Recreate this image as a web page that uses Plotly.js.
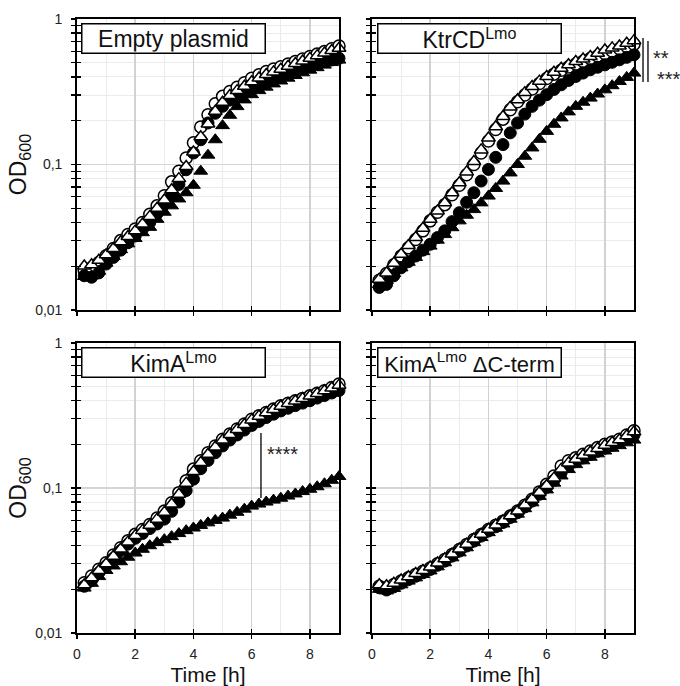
<!DOCTYPE html>
<html><head><meta charset="utf-8">
<script src="https://cdn.plot.ly/plotly-3.0.1.min.js"></script>
<style>html,body{margin:0;padding:0;background:#fff}#chart{width:680px;height:686px}</style>
</head><body><div id="chart"></div>
<script>
// ---- data ----
const time = [0.25,0.5,0.75,1,1.25,1.5,1.75,2,2.25,2.5,2.75,3,3.25,3.5,3.75,4,4.25,4.5,4.75,5,5.25,5.5,5.75,6,6.25,6.5,6.75,7,7.25,7.5,7.75,8,8.25,8.5,8.75,9];

const panelTitles = ["Empty plasmid", "KtrCD<sup>Lmo</sup>", "KimA<sup>Lmo</sup>", "KimA<sup>Lmo</sup> ΔC-term"];

// Panel 1: Empty plasmid
const emptyOpenCircle = [0.0186,0.0195,0.0212,0.0236,0.0265,0.030,0.033,0.036,0.040,0.0455,0.052,0.061,0.076,0.090,0.111,0.141,0.181,0.220,0.262,0.294,0.318,0.340,0.365,0.392,0.414,0.436,0.453,0.470,0.490,0.510,0.531,0.552,0.574,0.597,0.625,0.653];
const emptyFilledCircle = [0.0172,0.0168,0.0180,0.0207,0.0230,0.0258,0.029,0.0323,0.036,0.040,0.046,0.0532,0.062,0.073,0.092,0.120,0.148,0.193,0.225,0.251,0.277,0.300,0.327,0.353,0.368,0.383,0.398,0.413,0.430,0.448,0.466,0.484,0.497,0.510,0.523,0.537];
const emptyOpenTriangle = [0.0201,0.0205,0.022,0.0240,0.0265,0.0295,0.032,0.035,0.039,0.044,0.050,0.057,0.067,0.080,0.097,0.122,0.155,0.190,0.232,0.268,0.298,0.322,0.345,0.370,0.393,0.415,0.433,0.452,0.473,0.494,0.515,0.538,0.560,0.583,0.607,0.630];
const emptyFilledTriangle = [0.0170,0.0172,0.0185,0.0210,0.0233,0.026,0.0285,0.031,0.034,0.037,0.042,0.047,0.052,0.058,0.064,0.072,0.090,0.116,0.148,0.185,0.218,0.250,0.278,0.302,0.322,0.340,0.358,0.375,0.392,0.409,0.427,0.445,0.463,0.482,0.502,0.522];

// Panel 2: KtrCD Lmo
const ktrOpenCircle = [0.0160,0.0178,0.0205,0.0235,0.0268,0.0305,0.035,0.041,0.047,0.053,0.062,0.072,0.085,0.100,0.120,0.145,0.174,0.205,0.238,0.270,0.300,0.330,0.360,0.390,0.418,0.445,0.468,0.490,0.512,0.535,0.557,0.580,0.602,0.625,0.647,0.670];
const ktrFilledCircle = [0.0143,0.0150,0.0172,0.0195,0.0215,0.0235,0.0258,0.0283,0.0315,0.0350,0.0405,0.0467,0.055,0.064,0.077,0.0925,0.112,0.137,0.165,0.193,0.222,0.251,0.277,0.302,0.328,0.353,0.378,0.403,0.425,0.448,0.466,0.484,0.504,0.524,0.545,0.567];
const ktrOpenTriangle = [0.0163,0.0180,0.0210,0.0242,0.0278,0.0315,0.0365,0.042,0.048,0.0546,0.064,0.075,0.089,0.105,0.126,0.152,0.182,0.214,0.248,0.279,0.312,0.344,0.374,0.403,0.431,0.459,0.485,0.510,0.531,0.552,0.582,0.613,0.633,0.653,0.681,0.710];
const ktrFilledTriangle = [0.0150,0.0160,0.0178,0.0195,0.0213,0.0230,0.0252,0.0275,0.0302,0.0330,0.0368,0.0410,0.0448,0.0490,0.0545,0.0607,0.0685,0.0769,0.0875,0.100,0.114,0.130,0.149,0.169,0.189,0.209,0.230,0.251,0.268,0.286,0.305,0.326,0.348,0.372,0.397,0.425];

// Panel 3: KimA Lmo
const kimOpenCircle = [0.0222,0.0247,0.0275,0.0305,0.0345,0.0387,0.0432,0.0479,0.0518,0.0561,0.0620,0.0693,0.0791,0.0929,0.112,0.135,0.154,0.175,0.195,0.217,0.236,0.255,0.276,0.298,0.315,0.332,0.350,0.369,0.384,0.399,0.415,0.432,0.450,0.469,0.494,0.521];
const kimFilledCircle = [0.0210,0.0230,0.0260,0.0290,0.0328,0.0370,0.0410,0.0450,0.0485,0.0525,0.0565,0.0610,0.0690,0.0800,0.0960,0.115,0.136,0.155,0.175,0.195,0.214,0.232,0.251,0.270,0.288,0.306,0.323,0.340,0.355,0.370,0.385,0.400,0.417,0.434,0.452,0.470];
const kimOpenTriangle = [0.0215,0.0240,0.0270,0.0300,0.0338,0.0380,0.0425,0.0470,0.0510,0.0553,0.0610,0.0680,0.0775,0.0905,0.108,0.130,0.150,0.171,0.192,0.214,0.234,0.253,0.274,0.295,0.313,0.330,0.348,0.366,0.382,0.398,0.414,0.431,0.449,0.468,0.490,0.512];
const kimFilledTriangle = [0.0204,0.0220,0.0245,0.0270,0.0290,0.0310,0.0333,0.0356,0.0378,0.0400,0.0420,0.0440,0.0462,0.0485,0.0508,0.0530,0.0552,0.0575,0.0598,0.0620,0.0650,0.0680,0.0715,0.0750,0.0775,0.0800,0.0825,0.0850,0.0880,0.0910,0.0945,0.0980,0.102,0.107,0.113,0.120];

// Panel 4: KimA Lmo dC-term
const kimdOpenCircle = [0.0210,0.0205,0.0216,0.0228,0.0240,0.0253,0.0267,0.0281,0.0300,0.0321,0.0348,0.0377,0.0408,0.0442,0.0478,0.0518,0.0553,0.0591,0.0640,0.0693,0.0760,0.0835,0.0940,0.106,0.121,0.142,0.154,0.162,0.171,0.180,0.190,0.200,0.208,0.217,0.232,0.248];
const kimdFilledCircle = [0.0205,0.0198,0.0208,0.0220,0.0233,0.0246,0.0260,0.0274,0.0293,0.0313,0.0339,0.0367,0.0398,0.0430,0.0466,0.0505,0.0540,0.0578,0.0625,0.0676,0.0740,0.0812,0.0905,0.101,0.113,0.128,0.142,0.152,0.161,0.170,0.179,0.188,0.197,0.206,0.218,0.232];
const kimdOpenTriangle = [0.0215,0.0212,0.0220,0.0232,0.0244,0.0257,0.0270,0.0285,0.0304,0.0325,0.0351,0.0380,0.0410,0.0445,0.0480,0.0520,0.0556,0.0594,0.0643,0.0695,0.0762,0.0838,0.0935,0.104,0.117,0.135,0.149,0.158,0.168,0.177,0.187,0.197,0.206,0.215,0.229,0.244];
const kimdFilledTriangle = [0.0200,0.0195,0.0203,0.0215,0.0228,0.0240,0.0253,0.0268,0.0286,0.0305,0.0330,0.0357,0.0387,0.0420,0.0455,0.0492,0.0528,0.0565,0.0610,0.0660,0.0720,0.0790,0.0875,0.0970,0.108,0.121,0.134,0.145,0.154,0.163,0.172,0.180,0.188,0.196,0.205,0.214];

// ticks
const yTickVals = [0.01, 0.1, 1];
const yTickText = ["0,01", "0,1", "1"];
const yMinorVals = [0.02,0.03,0.04,0.05,0.06,0.07,0.08,0.09,0.2,0.3,0.4,0.5,0.6,0.7,0.8,0.9];
const xTickVals = [0, 2, 4, 6, 8];
const xTickText = ["0", "2", "4", "6", "8"];
const xMinorVals = [1, 3, 5, 7];

// significance marks
const sigKtrLabels = ["**", "***"];
const sigKimLabel = "****";

// ---- chart ----
const FONT = "Liberation Sans, Arial, Helvetica, sans-serif";
const panels = [
  [emptyOpenCircle, emptyFilledCircle, emptyFilledTriangle, emptyOpenTriangle],
  [ktrOpenCircle, ktrFilledCircle, ktrFilledTriangle, ktrOpenTriangle],
  [kimOpenCircle, kimFilledCircle, kimFilledTriangle, kimOpenTriangle],
  [kimdOpenCircle, kimdFilledCircle, kimdFilledTriangle, kimdOpenTriangle]
];
const styles = [
  {symbol: "circle", size: 12, color: "#ffffff", line: {color: "#000", width: 1.5}},
  {symbol: "circle", size: 12, color: "#000000", line: {color: "#000", width: 1}},
  {symbol: "triangle-up", size: 12, color: "#000000", line: {color: "#000", width: 1}},
  {symbol: "triangle-up", size: 12, color: "#ffffff", line: {color: "#000", width: 1.5}}
];
const xDom = [[0, 0.4704], [0.5296, 1], [0, 0.4704], [0.5296, 1]];
const yDom = [[0.526, 1], [0.526, 1], [0, 0.4723], [0, 0.4723]];

const traces = [];
const layout = {
  width: 680, height: 686,
  margin: {l: 77, r: 46, t: 19, b: 53},
  paper_bgcolor: "#fff", plot_bgcolor: "#fff",
  showlegend: false,
  font: {family: FONT, color: "#111", size: 14},
  annotations: [], shapes: []
};

for (let p = 0; p < 4; p++) {
  const n = p + 1;
  const xs = n === 1 ? "" : String(n);
  const xo = String(n + 4);
  panels[p].forEach((vals, k) => {
    traces.push({type: "scatter", mode: "markers", x: time, y: vals,
      xaxis: "x" + xs, yaxis: "y" + xs, marker: styles[k], cliponaxis: false, hoverinfo: "x+y"});
  });
  traces.push({type: "scatter", mode: "none", x: [1], y: [0.5], xaxis: "x" + xo, yaxis: "y" + xo, hoverinfo: "skip"});

  const bottom = p >= 2, left = p % 2 === 0;
  const xa = {
    domain: xDom[p], anchor: "y" + xs, range: [0, 9], fixedrange: true,
    tickmode: "array", tickvals: xTickVals, ticktext: xTickText,
    showticklabels: bottom, ticks: "outside", ticklen: 4, tickwidth: 1.5, tickcolor: "#000",
    tickfont: {size: 14, color: "#222"}, ticklabelstandoff: 3,
    showgrid: true, gridcolor: "#d2d2d2", gridwidth: 1.5, zeroline: false,
    minor: {tickmode: "array", tickvals: xMinorVals, showgrid: true, gridcolor: "#ebebeb", gridwidth: 1, ticks: ""},
    showline: true, linecolor: "#000", linewidth: 1.8, mirror: true
  };
  if (bottom) xa.title = {text: "Time [h]", font: {size: 21, color: "#111"}, standoff: 7};
  layout["xaxis" + xs] = xa;
  const ya = {
    domain: yDom[p], anchor: "x" + xs, type: "log", range: [-2, 0], fixedrange: true,
    tickmode: "array", tickvals: yTickVals, ticktext: yTickText,
    showticklabels: left, ticks: "outside", ticklen: 4, tickwidth: 1.5, tickcolor: "#000",
    tickfont: {size: 14, color: "#222"}, ticklabelstandoff: 6,
    showgrid: true, gridcolor: "#d5d5d5", gridwidth: 1.5, zeroline: false,
    minor: {tickmode: "array", tickvals: yMinorVals, showgrid: true, gridcolor: "#ebebeb", gridwidth: 1,
            ticks: "outside", ticklen: 4, tickwidth: 1.3, tickcolor: "#000"},
    showline: true, linecolor: "#000", linewidth: 1.8, mirror: true
  };
  if (left) ya.title = {text: "OD<sub>600</sub>", font: {size: 23, color: "#111"}, standoff: 2};
  layout["yaxis" + xs] = ya;
  // overlay axes for inward half of crossing ticks
  layout["xaxis" + xo] = {
    overlaying: "x" + xs, anchor: "y" + xs, side: "bottom", range: [0, 9], fixedrange: true,
    tickmode: "array", tickvals: xTickVals, showticklabels: false,
    ticks: "inside", ticklen: 4, tickwidth: 1.5, tickcolor: "#000",
    showgrid: false, zeroline: false, showline: false
  };
  layout["yaxis" + xo] = {
    overlaying: "y" + xs, anchor: "x" + xs, side: "left", type: "log", range: [-2, 0], fixedrange: true,
    tickmode: "array", tickvals: yTickVals, showticklabels: false,
    ticks: "inside", ticklen: 4, tickwidth: 1.5, tickcolor: "#000",
    minor: {tickmode: "array", tickvals: yMinorVals, ticks: "inside", ticklen: 4, tickwidth: 1.3, tickcolor: "#000", showgrid: false},
    showgrid: false, zeroline: false, showline: false
  };
  // panel label box
  layout.annotations.push({
    xref: "x" + xs + " domain", yref: "y" + xs + " domain",
    x: left ? 0.0153 : 0.019, y: 0.986, xanchor: "left", yanchor: "top",
    text: panelTitles[p], showarrow: false, align: "center",
    width: 180, height: 26, borderpad: 1, borderwidth: 1.5, bordercolor: "#000", bgcolor: "#fff",
    font: {size: p === 3 ? 22 : 23, color: "#111", family: FONT}
  });
}

// significance, panel 2 (right of the plot)
const lineStyle = {color: "#000", width: 1.3};
layout.shapes.push({type: "line", xref: "paper", yref: "paper", x0: 1.0162, x1: 1.0162, y0: 0.9691, y1: 0.8974, line: lineStyle});
layout.shapes.push({type: "line", xref: "paper", yref: "paper", x0: 1.0251, x1: 1.0251, y0: 0.9642, y1: 0.8974, line: lineStyle});
layout.annotations.push({xref: "paper", yref: "paper", x: 1.0305, y: 0.958, xanchor: "left", text: sigKtrLabels[0], showarrow: false, font: {size: 20, color: "#222"}});
layout.annotations.push({xref: "paper", yref: "paper", x: 1.0375, y: 0.924, xanchor: "left", text: sigKtrLabels[1], showarrow: false, font: {size: 20, color: "#222"}});
// significance, panel 3
layout.shapes.push({type: "line", xref: "paper", yref: "paper", x0: 0.3303, x1: 0.3303, y0: 0.3257, y1: 0.2199, line: lineStyle});
layout.annotations.push({xref: "paper", yref: "paper", x: 0.3698, y: 0.2704, text: sigKimLabel, showarrow: false, font: {size: 20, color: "#222"}});

Plotly.newPlot("chart", traces, layout, {displayModeBar: false, staticPlot: true});
</script>
</body></html>
